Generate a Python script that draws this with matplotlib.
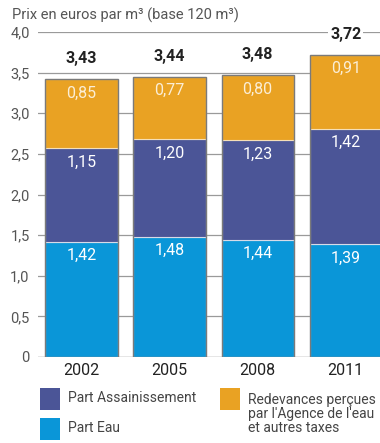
import matplotlib
matplotlib.use("Agg")
import matplotlib.pyplot as plt
from matplotlib.patches import Rectangle

plt.rcParams['font.family'] = ['Roboto', 'DejaVu Sans']

years = ["2002", "2005", "2008", "2011"]
eau = [1.42, 1.48, 1.44, 1.39]
assain = [1.15, 1.20, 1.23, 1.42]
redev = [0.85, 0.77, 0.80, 0.91]
totals = ["3,43", "3,44", "3,48", "3,72"]
yticks = [0, 0.5, 1.0, 1.5, 2.0, 2.5, 3.0, 3.5, 4.0]
ytick_labels = ["0", "0,5", "1,0", "1,5", "2,0", "2,5", "3,0", "3,5", "4,0"]

c_eau = "#0A96D8"
c_ass = "#4B5597"
c_red = "#E9A223"

fig = plt.figure(figsize=(3.8, 4.43), dpi=100)
ax = fig.add_axes([38/380, 86/443, 1 - 38/380, (357-32)/443])

x = list(range(len(years)))
w = 0.82
def fmt(v):
    return f"{v:.2f}".replace(".", ",")

ax.bar(x, eau, w, color=c_eau, edgecolor="#cfe8f5", linewidth=0.8, zorder=3)
ax.bar(x, assain, w, bottom=eau, color=c_ass, edgecolor="#d8dbe8", linewidth=0.8, zorder=3)
bot3 = [a + b for a, b in zip(eau, assain)]
ax.bar(x, redev, w, bottom=bot3, color=c_red, edgecolor="#f5dfb8", linewidth=0.8, zorder=3)

for i in x:
    tot = eau[i] + assain[i] + redev[i]
    ax.add_patch(Rectangle((i - w/2, 0), w, tot, fill=False, edgecolor="#7a7a7a", linewidth=1.0, zorder=4))
    ax.text(i, eau[i] - 0.17, fmt(eau[i]), ha="center", va="center", color="white", fontsize=11.5, zorder=5)
    ax.text(i, bot3[i] - 0.17, fmt(assain[i]), ha="center", va="center", color="white", fontsize=11.5, zorder=5)
    ax.text(i, tot - 0.17, fmt(redev[i]), ha="center", va="center", color="#fbeed6", fontsize=11.5, zorder=5)
    ax.text(i, tot + 0.25, totals[i], ha="center", va="center", color="#222222", fontsize=11.5,
            fontweight="bold", zorder=5,
            bbox=dict(facecolor="white", edgecolor="none", pad=1.5))

ax.set_xlim(-0.494, 3.39)
ax.set_ylim(0, 4.0)
ax.set_yticks(yticks)
ax.set_yticklabels(ytick_labels, fontsize=10.5, color="#555555")
ax.set_xticks(x)
ax.set_xticklabels(years, fontsize=11.5, color="#222222")
ax.tick_params(axis="x", length=0, pad=4)
ax.tick_params(axis="y", length=0, pad=6)
ax.grid(axis="y", color="#9a9a9a", linewidth=0.9, zorder=0)
for s in ax.spines.values():
    s.set_visible(False)
ax.axhline(0, color="#9a9a9a", linewidth=0.9, zorder=1)

fig.text(12/380, 1 - 15/443, "Prix en euros par m³ (base 120 m³)", fontsize=10.5, color="#555555", va="center", ha="left")

# legend
def sq(xp, yp, color):
    fig.patches.append(Rectangle((xp/380, 1 - (yp+22)/443), 20/380, 22/443, transform=fig.transFigure,
                                 facecolor=color, edgecolor="none"))
sq(40, 388, c_ass)
sq(40, 418, c_eau)
sq(220, 388, c_red)
fig.text(68/380, 1 - 398/443, "Part Assainissement", fontsize=10, color="#444444", va="center")
fig.text(68/380, 1 - 428/443, "Part Eau", fontsize=10, color="#444444", va="center")
fig.text(248/380, 1 - 414/443, "Redevances perçues\npar l'Agence de l'eau\net autres taxes", fontsize=10,
         color="#444444", va="center", linespacing=1.0)

fig.savefig("out.png", dpi=100)
